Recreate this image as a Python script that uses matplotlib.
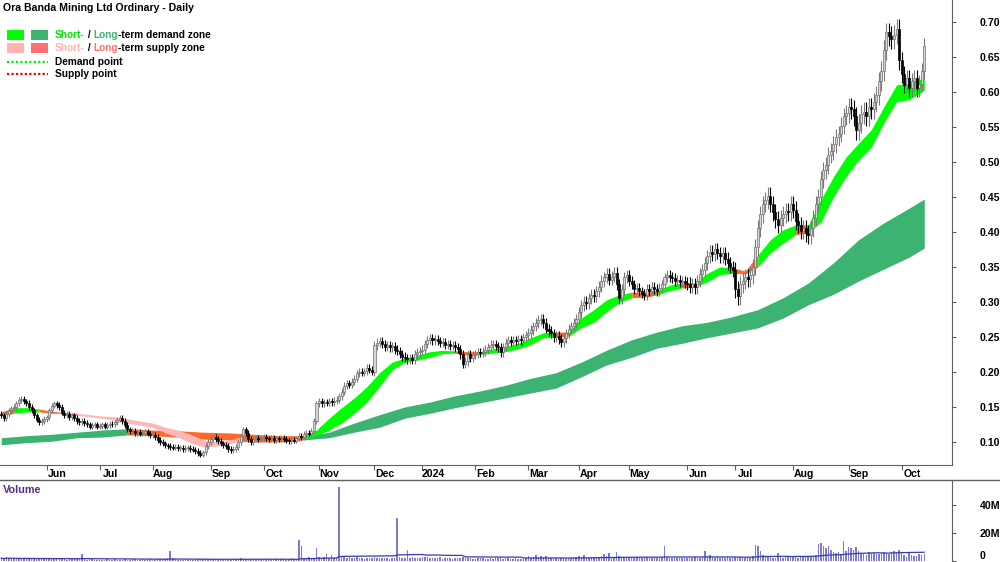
import numpy as np
import pandas as pd
import matplotlib
matplotlib.use("Agg")
import matplotlib.pyplot as plt
import matplotlib.transforms as mtransforms
from matplotlib.lines import Line2D
from matplotlib.patches import Rectangle

plt.rcParams['font.family'] = ['Liberation Sans', 'DejaVu Sans']
plt.rcParams['font.weight'] = 'bold'

# --- trading calendar (ASX holidays removed) ---
holidays = ['2023-06-12', '2023-12-25', '2023-12-26', '2024-01-01', '2024-01-26',
            '2024-03-29', '2024-04-01', '2024-04-25', '2024-06-10']
dates = pd.bdate_range('2023-05-08', '2024-10-14')
dates = dates[~dates.isin(pd.to_datetime(holidays))]

# --- daily closes, one row per month ---
closes_by_month = [
    [0.138, 0.134, 0.140, 0.145, 0.148, 0.150, 0.155, 0.160, 0.162, 0.158, 0.156, 0.150, 0.145, 0.138, 0.132, 0.128, 0.130, 0.133],
    [0.135, 0.145, 0.152, 0.155, 0.153, 0.150, 0.142, 0.138, 0.140, 0.136, 0.138, 0.134, 0.130, 0.128, 0.130, 0.127, 0.125, 0.122, 0.124, 0.125, 0.122],
    [0.123, 0.125, 0.122, 0.124, 0.126, 0.125, 0.128, 0.132, 0.134, 0.130, 0.124, 0.118, 0.115, 0.116, 0.113, 0.114, 0.112, 0.113, 0.115, 0.112, 0.110],
    [0.110, 0.107, 0.103, 0.100, 0.098, 0.095, 0.094, 0.093, 0.092, 0.093, 0.091, 0.092, 0.090, 0.091, 0.092, 0.090, 0.089, 0.087, 0.084, 0.082, 0.085, 0.094, 0.100],
    [0.104, 0.107, 0.104, 0.101, 0.098, 0.096, 0.094, 0.090, 0.088, 0.090, 0.093, 0.100, 0.108, 0.118, 0.113, 0.104, 0.100, 0.104, 0.106, 0.104, 0.105],
    [0.107, 0.105, 0.104, 0.106, 0.103, 0.105, 0.104, 0.106, 0.104, 0.102, 0.101, 0.103, 0.102, 0.105, 0.109, 0.107, 0.111, 0.113, 0.112, 0.116, 0.130, 0.155],
    [0.158, 0.155, 0.157, 0.156, 0.158, 0.157, 0.159, 0.160, 0.165, 0.172, 0.180, 0.184, 0.182, 0.186, 0.190, 0.198, 0.200, 0.199, 0.201, 0.206, 0.203, 0.200],
    [0.238, 0.242, 0.244, 0.240, 0.236, 0.238, 0.235, 0.237, 0.232, 0.230, 0.226, 0.222, 0.220, 0.218, 0.220, 0.217, 0.225, 0.228, 0.230],
    [0.232, 0.240, 0.246, 0.248, 0.245, 0.247, 0.244, 0.241, 0.243, 0.239, 0.240, 0.237, 0.238, 0.235, 0.233, 0.225, 0.212, 0.215, 0.225, 0.220, 0.224],
    [0.226, 0.228, 0.227, 0.229, 0.232, 0.236, 0.239, 0.240, 0.237, 0.235, 0.228, 0.236, 0.242, 0.245, 0.243, 0.246, 0.244, 0.247, 0.245, 0.250, 0.253],
    [0.256, 0.260, 0.265, 0.270, 0.274, 0.276, 0.270, 0.262, 0.258, 0.255, 0.250, 0.252, 0.247, 0.243, 0.248, 0.255, 0.262, 0.265, 0.270, 0.276],
    [0.285, 0.295, 0.300, 0.298, 0.305, 0.310, 0.308, 0.315, 0.322, 0.330, 0.335, 0.340, 0.332, 0.336, 0.342, 0.325, 0.305, 0.318, 0.335, 0.338],
    [0.330, 0.325, 0.318, 0.320, 0.315, 0.312, 0.310, 0.318, 0.315, 0.322, 0.318, 0.315, 0.320, 0.325, 0.335, 0.338, 0.336, 0.334, 0.330, 0.332, 0.328, 0.330, 0.327],
    [0.326, 0.322, 0.325, 0.321, 0.330, 0.340, 0.345, 0.355, 0.365, 0.372, 0.368, 0.375, 0.370, 0.365, 0.370, 0.362, 0.355, 0.350, 0.345],
    [0.318, 0.308, 0.325, 0.330, 0.335, 0.333, 0.338, 0.350, 0.378, 0.405, 0.425, 0.440, 0.445, 0.452, 0.440, 0.428, 0.418, 0.410, 0.420, 0.425, 0.430, 0.428, 0.440],
    [0.432, 0.415, 0.410, 0.402, 0.405, 0.398, 0.395, 0.405, 0.420, 0.440, 0.450, 0.475, 0.488, 0.495, 0.510, 0.515, 0.525, 0.535, 0.540, 0.552, 0.565, 0.570],
    [0.578, 0.575, 0.565, 0.545, 0.555, 0.568, 0.572, 0.565, 0.578, 0.575, 0.585, 0.595, 0.615, 0.630, 0.660, 0.685, 0.680, 0.675, 0.682, 0.690, 0.645],
    [0.625, 0.610, 0.620, 0.605, 0.615, 0.620, 0.605, 0.612, 0.630, 0.665],
]
# typical wick length per month
wick_by_month = [0.004, 0.004, 0.004, 0.004, 0.004, 0.004, 0.005, 0.006, 0.006,
                 0.006, 0.007, 0.008, 0.007, 0.009, 0.012, 0.012, 0.014, 0.012]

# --- daily volume (millions), one row per month ---
volume_by_month = [
    [2.1, 1.4, 2.6, 1.8, 1.5, 2.2, 1.9, 1.2, 1.6, 2.4, 1.7, 1.4, 1.1, 2.0, 1.5, 1.7, 1.2, 1.4],
    [1.6, 2.3, 1.9, 1.5, 1.3, 1.2, 1.8, 1.5, 1.0, 1.3, 1.7, 1.2, 1.5, 1.1, 4.8, 1.4, 1.0, 1.2, 1.5, 0.9, 1.0],
    [0.9, 1.0, 0.8, 1.2, 0.9, 1.0, 1.3, 0.9, 0.7, 1.0, 1.2, 0.9, 1.0, 1.5, 1.2, 0.9, 1.0, 1.3, 1.0, 0.9, 1.1],
    [1.0, 0.9, 1.2, 1.4, 1.1, 1.6, 2.2, 7.5, 1.8, 1.2, 0.9, 1.0, 0.8, 1.1, 0.9, 0.7, 0.8, 1.0, 1.2, 1.4, 1.1, 1.5, 1.3],
    [1.0, 1.2, 0.8, 0.9, 1.1, 0.7, 0.8, 1.0, 0.9, 1.3, 1.1, 1.6, 2.0, 1.4, 1.2, 0.9, 1.0, 1.1, 0.8, 0.9, 1.2],
    [1.0, 1.3, 1.1, 0.9, 1.2, 1.4, 1.0, 1.1, 1.3, 0.9, 1.5, 1.8, 1.2, 1.6, 15.0, 11.0, 1.8, 2.1, 3.2, 1.5, 2.4, 9.0],
    [2.8, 2.2, 3.0, 4.9, 2.0, 4.1, 1.9, 2.5, 53.0, 3.5, 2.8, 2.4, 2.9, 2.2, 1.8, 2.6, 2.3, 2.0, 1.7, 2.4, 2.1, 1.9],
    [2.6, 2.3, 1.9, 2.2, 1.8, 2.0, 1.6, 2.4, 1.9, 31.0, 2.7, 2.1, 1.8, 8.0, 2.5, 3.1, 2.2, 1.9, 2.4],
    [2.8, 2.6, 3.2, 2.4, 2.0, 1.8, 2.2, 2.9, 1.7, 1.9, 2.3, 2.0, 1.6, 2.1, 1.8, 2.5, 3.0, 2.4, 2.2, 1.9, 1.7],
    [1.5, 1.9, 2.2, 1.8, 1.6, 1.4, 2.0, 1.7, 2.3, 1.9, 2.6, 1.5, 1.8, 2.1, 1.4, 1.6, 1.9, 1.3, 1.2, 1.5, 2.0],
    [3.5, 2.4, 2.8, 4.2, 3.1, 3.8, 2.6, 3.3, 2.2, 1.9, 1.7, 2.0, 1.6, 2.3, 1.8, 1.5, 2.1, 1.9, 2.6, 3.0],
    [3.4, 2.8, 4.5, 2.2, 2.0, 2.6, 3.1, 2.4, 2.9, 3.7, 4.8, 3.3, 5.8, 3.0, 2.5, 6.5, 3.9, 2.7, 2.2, 2.8],
    [2.4, 2.0, 1.8, 2.6, 2.2, 1.9, 2.5, 3.0, 2.1, 2.4, 2.8, 1.9, 2.2, 3.1, 11.0, 2.7, 2.3, 2.0, 1.8, 2.2, 2.5, 1.9, 2.1],
    [2.0, 1.8, 2.3, 2.6, 2.1, 1.9, 2.8, 7.2, 3.5, 4.1, 3.0, 2.4, 3.3, 2.2, 2.7, 2.0, 3.6, 2.4, 2.1],
    [2.6, 2.2, 3.0, 2.5, 2.3, 2.8, 2.1, 3.4, 11.2, 11.0, 7.0, 4.5, 3.6, 2.9, 3.1, 2.5, 2.2, 6.0, 2.8, 2.4, 2.6, 3.0, 2.7],
    [3.2, 2.8, 2.5, 3.0, 2.7, 3.4, 2.9, 2.6, 3.8, 4.5, 12.0, 13.0, 11.0, 9.0, 11.0, 8.0, 6.5, 5.8, 6.2, 5.0, 14.0, 7.5],
    [10.0, 9.0, 8.0, 10.0, 7.0, 6.0, 5.0, 4.2, 6.3, 5.5, 6.0, 5.2, 4.8, 5.5, 6.2, 5.8, 5.0, 6.5, 7.0, 6.0, 8.0],
    [5.5, 4.0, 3.2, 6.0, 4.4, 3.5, 3.9, 5.1, 4.2, 5.3],
]

# --- short-term zone, sampled every 5 bars (d=demand, n=transition, s=supply) ---
short_idx = list(range(0, 366, 5)) + [366]
short_lo = [0.137, 0.141, 0.143, 0.143, 0.141, 0.141, 0.138, 0.136, 0.134, 0.131,
            0.127, 0.124, 0.121, 0.113, 0.107, 0.099, 0.093, 0.094, 0.097, 0.101,
            0.100, 0.100, 0.101, 0.103, 0.105, 0.109, 0.117, 0.127, 0.141, 0.157,
            0.179, 0.203, 0.214, 0.217, 0.221, 0.226, 0.227, 0.224, 0.225, 0.227,
            0.229, 0.233, 0.239, 0.249, 0.250, 0.251, 0.263, 0.271, 0.286, 0.299,
            0.306, 0.307, 0.310, 0.316, 0.320, 0.321, 0.329, 0.339, 0.341, 0.340,
            0.350, 0.370, 0.384, 0.396, 0.399, 0.414, 0.450, 0.479, 0.503, 0.521,
            0.556, 0.586, 0.589, 0.600, 0.603]
short_hi = [0.143, 0.149, 0.149, 0.147, 0.144, 0.142, 0.141, 0.139, 0.137, 0.136,
            0.133, 0.130, 0.127, 0.121, 0.117, 0.111, 0.103, 0.100, 0.102, 0.107,
            0.106, 0.106, 0.107, 0.109, 0.108, 0.117, 0.134, 0.149, 0.163, 0.179,
            0.199, 0.214, 0.220, 0.224, 0.229, 0.231, 0.230, 0.229, 0.229, 0.233,
            0.236, 0.241, 0.249, 0.256, 0.257, 0.257, 0.277, 0.289, 0.303, 0.310,
            0.314, 0.314, 0.316, 0.324, 0.327, 0.327, 0.341, 0.350, 0.349, 0.344,
            0.367, 0.389, 0.403, 0.410, 0.410, 0.446, 0.479, 0.507, 0.527, 0.546,
            0.579, 0.610, 0.613, 0.619, 0.620]
short_state = list("n" + "dd" + "nnn" + "s" * 13 + "n" * 5 + "d" * 12 + "nn" + "d" * 6
                   + "n" + "d" * 5 + "nn" + "dd" + "n" + "ddd" + "nn" + "ddd" + "n" + "d" * 11)

# --- long-term zone, sampled every 10 bars ---
long_idx = list(range(0, 366, 10)) + [366]
long_lo = [0.096, 0.099, 0.101, 0.106, 0.107, 0.110, 0.109, 0.107, 0.104, 0.103,
           0.101, 0.100, 0.103, 0.106, 0.114, 0.121, 0.134, 0.141, 0.149, 0.156,
           0.163, 0.170, 0.177, 0.193, 0.210, 0.221, 0.234, 0.241, 0.249, 0.256,
           0.263, 0.277, 0.296, 0.311, 0.330, 0.347, 0.364, 0.377]
long_hi = [0.106, 0.109, 0.111, 0.114, 0.117, 0.119, 0.117, 0.116, 0.114, 0.113,
           0.111, 0.109, 0.108, 0.114, 0.127, 0.139, 0.150, 0.157, 0.166, 0.173,
           0.181, 0.191, 0.199, 0.214, 0.231, 0.246, 0.257, 0.266, 0.271, 0.279,
           0.289, 0.306, 0.327, 0.356, 0.389, 0.413, 0.434, 0.447]
long_state = list("d" * 5 + "n" * 7 + "d" * 26)

closes = np.concatenate([np.array(m) for m in closes_by_month])
volume = np.concatenate([np.array(m) for m in volume_by_month]) * 1e6
n = len(dates)
x = np.arange(n)

month_id = (dates.year - 2023) * 12 + dates.month - 5
wick = np.array(wick_by_month)[month_id]
opens = np.r_[0.140, closes[:-1]]
highs = np.maximum(opens, closes) + wick
lows = np.minimum(opens, closes) - wick

ZONE_COLORS = {'d': '#00ff00', 'n': '#ff6a2a', 's': '#ffb6b6'}
LONG_COLORS = {'d': '#3cb371', 'n': '#ff6a2a'}
FS = 7.6

fig = plt.figure(figsize=(10, 5.62), dpi=100, facecolor='white')
ax = fig.add_axes([0, 1 - 465 / 562, 0.952, 465 / 562])
axv = fig.add_axes([0, 0, 0.952, 82 / 562])


def fill_zone(xs, lo, hi, states, colors, z):
    xs, lo, hi = map(np.asarray, (xs, lo, hi))
    i = 0
    while i < len(xs) - 1:
        j = i
        while j + 1 < len(xs) - 1 and states[j + 1] == states[i]:
            j += 1
        sl = slice(i, j + 2)
        ax.fill_between(xs[sl], lo[sl], hi[sl], color=colors[states[i]], lw=0, zorder=z)
        i = j + 1


fill_zone(long_idx, long_lo, long_hi, long_state, LONG_COLORS, 1)
fill_zone(short_idx, short_lo, short_hi, short_state, ZONE_COLORS, 2)

# candles
up = closes >= opens
ax.vlines(x[up], lows[up], highs[up], colors='#7a7a7a', lw=0.8, zorder=3)
ax.vlines(x[~up], lows[~up], highs[~up], colors='black', lw=0.8, zorder=3)
body = np.maximum(np.abs(closes - opens), 0.0012)
ax.bar(x[up], body[up], bottom=opens[up], width=0.8, color='#d6d6d6',
       edgecolor='#6e6e6e', lw=0.5, zorder=4)
ax.bar(x[~up], body[~up], bottom=closes[~up], width=0.8, color='black',
       edgecolor='black', lw=0.5, zorder=4)

ax.set_xlim(-0.5, 377)
ax.set_ylim(0.0671, 0.7314)
ax.yaxis.tick_right()
ax.set_yticks(np.arange(0.10, 0.701, 0.05))
ax.set_yticklabels([f'{v:.2f}' for v in np.arange(0.10, 0.701, 0.05)])
ax.tick_params(axis='y', direction='out', length=3, pad=17, labelsize=FS,
               color='#606060')
for s in ['left', 'top']:
    ax.spines[s].set_visible(False)
for s in ['right', 'bottom']:
    ax.spines[s].set_color('#606060')

# month ticks + labels (label centred a little right of the tick)
months = np.asarray(dates.month)
starts = [i for i in range(1, n) if months[i] != months[i - 1]]
ax.set_xticks(starts)
ax.set_xticklabels([])
ax.tick_params(axis='x', direction='out', length=3.5, color='#606060')
lbl_tr = mtransforms.offset_copy(ax.get_xaxis_transform(), fig=fig, x=10.5, y=-4, units='dots')
for i in starts:
    d = dates[i]
    lbl = str(d.year) if d.month == 1 else d.strftime('%b')
    ax.text(i, 0, lbl, transform=lbl_tr, ha='center', va='top', fontsize=FS, clip_on=False)

# volume
axv.bar(x, volume, width=0.6, color='#7b7bd6', lw=0, zorder=2)
vol_ma = pd.Series(volume).rolling(50, min_periods=1).mean()
axv.plot(x, vol_ma, color='#3a3aaa', lw=0.9, zorder=3)
axv.set_xlim(ax.get_xlim())
axv.set_ylim(-0.71e6, 57.9e6)
axv.yaxis.tick_right()
axv.set_yticks([0, 20e6, 40e6])
axv.set_yticklabels(['0', '20M', '40M'])
axv.get_yticklabels()[0].set_verticalalignment('bottom')
axv.set_xticks([])
axv.tick_params(axis='y', direction='out', length=3, pad=17, labelsize=FS, color='#606060')
for s in ['left', 'top', 'bottom']:
    axv.spines[s].set_visible(False)
axv.spines['right'].set_color('#606060')
fig.add_artist(Line2D([0, 1], [82 / 562, 82 / 562], transform=fig.transFigure,
                      color='#606060', lw=1))
fig.text(3 / 1000, 1 - 490 / 562, 'Volume', color='#5b2a90', fontsize=7.8, va='center')


def fy(px):
    return 1 - px / 562


# title + legend
fig.text(3 / 1000, fy(8), 'Ora Banda Mining Ltd Ordinary - Daily', fontsize=7.6, va='center')
for ypx, c1, c2 in [(35, '#00ff00', '#3cb371'), (48, '#ffb3b3', '#ff7070')]:
    fig.add_artist(Rectangle((7 / 1000, fy(ypx + 5)), 17 / 1000, 10 / 562,
                             transform=fig.transFigure, color=c1, lw=0))
    fig.add_artist(Rectangle((31 / 1000, fy(ypx + 5)), 17 / 1000, 10 / 562,
                             transform=fig.transFigure, color=c2, lw=0))

rows = [
    (35, [('Short-', '#00e600'), (' / ', 'black'), ('Long', '#3cb371'), ('-term demand zone', 'black')]),
    (48, [('Short-', '#ffb3b3'), (' / ', 'black'), ('Long', '#ff7070'), ('-term supply zone', 'black')]),
    (62, [('Demand point', 'black')]),
    (74, [('Supply point', 'black')]),
]
for ypx, parts in rows:
    t = fig.text(55 / 1000, fy(ypx), parts[0][0], color=parts[0][1], fontsize=7.3, va='center')
    for s, col in parts[1:]:
        t = ax.annotate(s, xy=(1, 0), xycoords=t, va='bottom', ha='left', color=col,
                        fontsize=7.3, annotation_clip=False)

for ypx, col in [(62, '#00ee00'), (74, '#ee0000')]:
    fig.add_artist(Line2D([7 / 1000, 48 / 1000], [fy(ypx), fy(ypx)], transform=fig.transFigure,
                          color=col, lw=1.6, ls=(0, (1, 1))))

fig.savefig('out.png', dpi=100, facecolor='white')
